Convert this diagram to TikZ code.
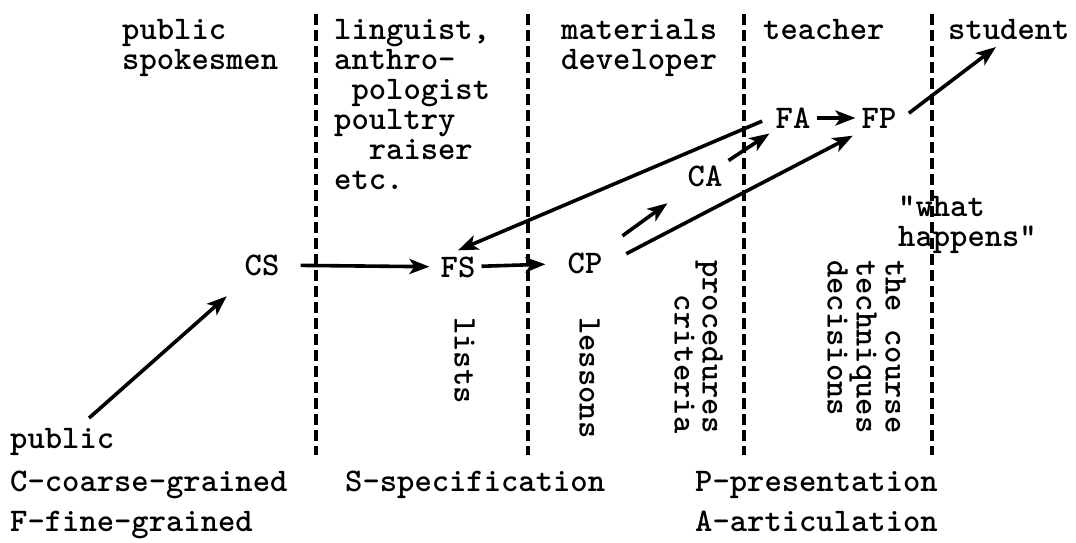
\documentclass[tikz,border=0pt]{standalone}
\usetikzlibrary{arrows.meta}
\newcommand\lblfont{\ttfamily\bfseries\fontsize{33}{30}\selectfont}

\begin{document}
\begin{tikzpicture}[x=1pt,y=-1pt,
		lbl/.style={font=\lblfont,inner sep=0pt,anchor=north west,align=left},
		vlbl/.style={lbl,rotate=-90},
		stage/.style={font=\lblfont,inner sep=6pt},
		arr/.style={-{Stealth[length=20pt,width=15pt,inset=5pt]},line width=3.6pt}]
		\useasboundingbox (0,0) rectangle (1076,543);
		% partition lines
		\foreach \x in {316,528,744,932}{
			\draw[line width=3.5pt,dash pattern=on 11pt off 5pt] (\x,14) -- (\x,455);
		}
		% who
		\node[lbl] (spokes) at (122,19) {public\\spokesmen};
		\node[lbl] (lingu) at (334,19) {linguist,\\anthro-\\\hphantom{a}pologist\\poultry\\\hphantom{aa}raiser\\etc.};
		\node[lbl] (matdev) at (561,19) {materials\\developer};
		\node[lbl] (teacher) at (763,19) {teacher};
		\node[lbl] (student) at (948,19) {student};
		\node[lbl] (happens) at (898,196) {"what\\happens"};
		% stages
		\node[stage] (CS) at (262,265) {CS};
		\node[stage] (FS) at (458,267) {FS};
		\node[stage] (CP) at (585,263) {CP};
		\node[stage] (CA) at (705,176) {CA};
		\node[stage] (FA) at (793,118) {FA};
		\node[stage] (FP) at (879,118) {FP};
		\coordinate (stutip) at (996,47);
		% products
		\node[vlbl] (lists) at (475,317) {lists};
		\node[vlbl] (lessons) at (600,317) {lessons};
		\node[vlbl,align=right,font=\ttfamily\bfseries\fontsize{33}{23}\selectfont] (proc) at (723,260) {procedures\\criteria};
		\node[vlbl,font=\ttfamily\bfseries\fontsize{33}{29}\selectfont] (course) at (906,260) {the course\\techniques\\decisions};
		% key
		\node[lbl] (public) at (10,428) {public};
		\node[lbl] (keyC) at (10,471) {C-coarse-grained};
		\node[lbl] (keyF) at (10,511) {F-fine-grained};
		\node[lbl] (keyS) at (345,471) {S-specification};
		\node[lbl] (keyP) at (695,471) {P-presentation};
		\node[lbl] (keyA) at (695,511) {A-articulation};
		
		\draw[arr,shorten <=15pt,shorten >=22pt] (public) -- (CS);
		\draw[arr,shorten <=15pt,shorten >=5pt] (CS) -- (FS);
		\draw[arr,shorten >=16pt] (FS) -- (CP);
		\draw[arr,shorten <=8pt] (FA.west) -- (FS.north);
		\draw[arr,shorten <=18pt,shorten >=18pt] (CP) -- (CA);
		\draw[arr] (CA) -- (FA);
		\draw[arr,shorten <=20pt,shorten >=3pt] (CP.east) -- (FP.south west);
		\draw[arr] (FA) -- (FP);
		\draw[arr,shorten <=8pt] (FP.east) -- (stutip);
\end{tikzpicture}
\end{document}
